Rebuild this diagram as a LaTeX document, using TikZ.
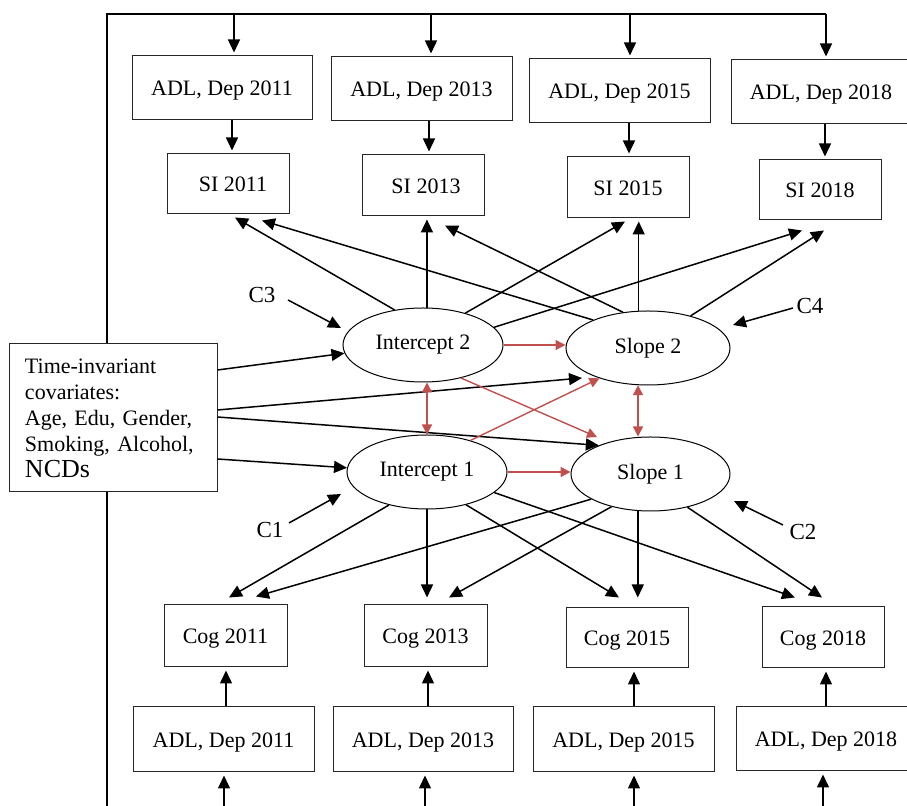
\documentclass[tikz,border=0pt]{standalone}
\usepackage{fontspec}
\setmainfont{Liberation Serif}
\usetikzlibrary{arrows.meta,calc,shapes.geometric}
\definecolor{myred}{RGB}{192,80,77}
\begin{document}
\begin{tikzpicture}[x=0.5pt,y=-0.5pt,
  boxbase/.style={draw=black!85,line width=0.5pt,rectangle,inner sep=0pt,fill=white},
  box/.style={boxbase,font=\fontsize{11}{13}\selectfont,text height=8.5pt,text depth=0.5pt},
  ell/.style={draw,ellipse,line width=0.5pt,inner sep=0pt,font=\fontsize{11}{13}\selectfont},
  arr/.style={line width=0.75pt,-{Triangle[length=6.5pt,width=6pt]}},
  rarr/.style={draw=myred,line width=0.7pt,-{Triangle[length=5pt,width=5pt]}},
  rdarr/.style={draw=myred,line width=0.7pt,{Triangle[length=5pt,width=5pt]}-{Triangle[length=5pt,width=5pt]}},
  lab/.style={inner sep=0pt,font=\fontsize{11.5}{13}\selectfont}]
\useasboundingbox (0,0) rectangle (907,806);
% frame
\coordinate (tl) at (107,14);
\coordinate (tr) at (826,14);
\coordinate (bl) at (107,806);
\draw[line width=0.75pt] (bl) -- (tl) -- (tr);
% top ADL boxes
\node[box,minimum width=90pt,minimum height=32pt] (adt1) at (222,88) {ADL, Dep 2011};
\node[box,minimum width=90.5pt,minimum height=32pt] (adt2) at (421.5,89) {ADL, Dep 2013};
\node[box,minimum width=90.5pt,minimum height=32pt] (adt3) at (619.5,91) {ADL, Dep 2015};
\node[box,minimum width=90pt,minimum height=32pt] (adt4) at (821,92) {ADL, Dep 2018};
% SI boxes
\node[box,minimum width=61pt,minimum height=30pt] (si1) at (228,184) {\hspace*{5pt}SI 2011};
\node[box,minimum width=61pt,minimum height=30.5pt] (si2) at (423,185.5) {\hspace*{3pt}SI 2013};
\node[box,minimum width=61pt,minimum height=30.5pt] (si3) at (628,187.5) {SI 2015};
\node[box,minimum width=61pt,minimum height=30pt] (si4) at (820,190) {SI 2018};
% Cog boxes
\node[box,minimum width=61.5pt,minimum height=31pt] (cog1) at (225.5,636) {Cog 2011};
\node[box,minimum width=61.5pt,minimum height=31pt] (cog2) at (425.5,636) {Cog 2013};
\node[box,minimum width=61pt,minimum height=30pt] (cog3) at (627,638) {Cog 2015};
\node[box,minimum width=61pt,minimum height=30.5pt] (cog4) at (823,637.5) {Cog 2018};
% bottom ADL boxes
\node[box,minimum width=90.5pt,minimum height=32.5pt] (adb1) at (223.5,739.5) {ADL, Dep 2011};
\node[box,minimum width=90pt,minimum height=32.5pt] (adb2) at (423,739.5) {ADL, Dep 2013};
\node[box,minimum width=90.5pt,minimum height=32.5pt] (adb3) at (623.5,739.5) {ADL, Dep 2015};
\node[box,minimum width=90pt,minimum height=32pt] (adb4) at (826,739) {ADL, Dep 2018};
% ellipses
\node[ell,minimum width=80pt,minimum height=37pt] (i2) at (423,345) {Intercept 2};
\node[ell,minimum width=82pt,minimum height=37pt] (sl2) at (648,348) {Slope 2};
\node[ell,minimum width=80pt,minimum height=37pt] (i1) at (427,472) {Intercept 1};
\node[ell,minimum width=79.5pt,minimum height=37pt] (sl1) at (650.5,474) {Slope 1};
% covariates
\node[boxbase,minimum width=104pt,minimum height=74pt,text width=88pt,align=left,inner xsep=8pt,font=\fontsize{11}{13}\selectfont] (cov) at (113,418)
 {Time-invariant\\covariates:\\Age, Edu, Gender,\\Smoking, Alcohol,\\{\fontsize{13}{14}\selectfont NCDs}};
% C labels
\node[lab] (c3) at (262,295) {C3};
\node[lab] (c1) at (270,530) {C1};
\node[lab] (c4) at (810,306) {C4};
\node[lab] (c2) at (803,532) {C2};
% top frame arrows
\draw[arr] ($(tl -| adt1.north)+(12,0)$) -- ($(adt1.north)+(12,-3)$);
\draw[arr] ($(tl -| adt2.north)+(9.5,0)$) -- ($(adt2.north)+(9.5,-3)$);
\draw[arr] ($(tl -| adt3.north)+(10.5,0)$) -- ($(adt3.north)+(10.5,-3)$);
\draw[arr] ($(tl -| adt4.north)+(5,0)$) -- ($(adt4.north)+(5,-3)$);
% ADL -> SI
\draw[arr] ($(adt1.south)+(10,0)$) -- ($(si1.north -| adt1.south)+(10,-3)$);
\draw[arr] ($(adt2.south)+(7.5,0)$) -- ($(si2.north -| adt2.south)+(7.5,-3)$);
\draw[arr] ($(adt3.south)+(9.5,0)$) -- ($(si3.north -| adt3.south)+(9.5,-3)$);
\draw[arr] ($(adt4.south)+(4,0)$) -- ($(si4.north -| adt4.south)+(4,-3)$);
% bottom frame arrows
\draw[arr] ($(bl -| adb1.south)+(0.5,0)$) -- ($(adb1.south)+(0.5,3)$);
\draw[arr] ($(bl -| adb2.south)+(2,0)$) -- ($(adb2.south)+(2,3)$);
\draw[arr] ($(bl -| adb3.south)+(10.5,0)$) -- ($(adb3.south)+(10.5,3)$);
\draw[arr] ($(bl -| adb4.south)+(-3,0)$) -- ($(adb4.south)+(-3,3)$);
% ADL -> Cog
\draw[arr] ($(adb1.north)+(2.5,0)$) -- ($(cog1.south -| adb1.north)+(2.5,3)$);
\draw[arr] ($(adb2.north)+(5,0)$) -- ($(cog2.south -| adb2.north)+(5,3)$);
\draw[arr] ($(adb3.north)+(10.5,0)$) -- ($(cog3.south -| adb3.north)+(10.5,3)$);
\draw[arr] ($(adb4.north)+(0,0)$) -- ($(cog4.south -| adb4.north)+(0,3)$);
% latent -> SI
\draw[arr] (i2.129) -- ($(si1.south)+(7,3)$);
\draw[arr] (i2.84) -- ($(si2.south -| i2.84)+(0,3)$);
\draw[arr] (i2.37) -- ($(si3.south)+(-3,3)$);
\draw[arr] (i2.14) -- ($(si4.south)+(-18,10)$);
\draw[arr] (sl2.153) -- ($(si1.south)+(34,6)$);
\draw[arr] (sl2.125) -- ($(si2.south)+(22,9)$);
\draw[arr] (sl2.104) -- ($(si3.south -| sl2.104)+(0,3)$);
\draw[arr] (sl2.37) -- ($(si4.south)+(4,10)$);
% latent -> Cog
\draw[arr] (i1.-139) -- ($(cog1.north)+(3.5,-7)$);
\draw[arr] (i1.south) -- ($(cog2.north -| i1.south)+(0,-7)$);
\draw[arr] (i1.-40) -- ($(cog3.north)+(-8,-10)$);
\draw[arr] (i1.-17) -- ($(cog4.north)+(-28,-9)$);
\draw[arr] (sl1.-157) -- ($(cog1.north)+(30.5,-8)$);
\draw[arr] (sl1.-140) -- ($(cog2.north)+(23.5,-7)$);
\draw[arr] (sl1.-109) -- ($(cog3.north -| sl1.-109)+(0,-10)$);
\draw[arr] (sl1.-42) -- ($(cog4.north)+(-1,-9)$);
% covariates -> latent
\draw[arr] ($(cov.east)+(0,-48)$) -- (i2.-174);
\draw[arr] ($(cov.east)+(0,-8)$) -- ($(sl2.center)+(-66,30)$);
\draw[arr] ($(cov.east)+(0,-1)$) -- (sl1.151);
\draw[arr] ($(cov.east)+(0,41)$) -- (i1.177);
% red paths
\draw[rarr] (i2.east) -- (i2.east -| sl2.west);
\draw[rarr] (i1.east) -- (i1.east -| sl1.west);
\draw[rdarr] (i1.north) -- (i1.north |- i2.south);
\draw[rdarr] (sl2.-105) -- (sl2.-105 |- sl1.north);
\draw[rarr] (i2.-41) -- ($(sl1.center)+(-53.5,-37)$);
\draw[rarr] (i1.36) -- (sl2.-148);
% C arrows
\draw[arr] ($(c3.center)+(26,5)$) -- ($(i2.center)+(-82,-17)$);
\draw[arr] ($(c1.center)+(19,-7)$) -- ($(i1.center)+(-86,22)$);
\draw[arr] ($(c4.center)+(-17,2)$) -- ($(sl2.center)+(85,-23)$);
\draw[arr] ($(c2.center)+(-20,-7)$) -- ($(sl1.center)+(83.5,27)$);
\end{tikzpicture}
\end{document}
